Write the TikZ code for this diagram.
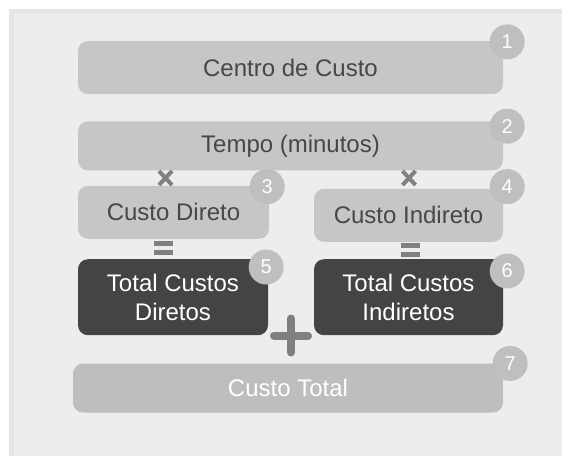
\documentclass[tikz,border=0pt]{standalone}
\usepackage{fontspec}
\setmainfont{Liberation Sans}
\usetikzlibrary{positioning}

\definecolor{panelborder}{HTML}{E6E6E6}
\definecolor{panelfill}{HTML}{EDEDED}
\definecolor{boxlight}{HTML}{C6C6C6}
\definecolor{boxtotal}{HTML}{BEBEBE}
\definecolor{boxdark}{HTML}{444444}
\definecolor{badgegray}{HTML}{BFBFBF}
\definecolor{opgray}{HTML}{808080}
\definecolor{textdark}{HTML}{474747}

\tikzset{
  costbox/.style={rounded corners=10pt, inner sep=0pt, align=center,
    font=\fontsize{24}{29}\selectfont},
  lightbox/.style={costbox, fill=boxlight, text=textdark},
  darkbox/.style={costbox, fill=boxdark, text=white},
  totalbox/.style={costbox, fill=boxtotal, text=white},
  badge/.style={circle, fill=badgegray, text=white, minimum size=35pt,
    inner sep=0pt, font=\fontsize{20}{20}\selectfont},
  opline/.style={draw=opgray, line width=4pt},
  timesop/.pic={\draw[opline] (-6.5,-7) -- (6.5,7) (-6.5,7) -- (6.5,-7);},
  equalsop/.pic={\draw[opline, line width=4.8pt] (-9.5,-4.7) -- (9.5,-4.7) (-9.5,4.7) -- (9.5,4.7);},
  plusop/.pic={\draw[opline, line width=8pt, line cap=round] (-17,0) -- (17,0) (0,-17) -- (0,17);}
}

\begin{document}
\begin{tikzpicture}[x=1pt, y=-1pt]
  \useasboundingbox (0,0) rectangle (562,456);
  % panel
  \fill[panelborder] (9,9) rectangle (562,456);
  \fill[panelfill] (14,14) rectangle (562,456);

  \node[lightbox, minimum width=425pt, minimum height=53pt] (centro) at (290.5,67.5) {Centro de Custo};
  \node[lightbox, minimum width=425pt, minimum height=49pt, below=27pt of centro] (tempo) {Tempo (minutos)};
  \node[lightbox, minimum width=191pt, minimum height=53pt, below=15pt of tempo.south west, anchor=north west] (direto) {Custo Direto};
  \node[lightbox, minimum width=189pt, minimum height=53pt, below=18pt of tempo.south east, anchor=north east] (indireto) {Custo Indireto};
  \node[darkbox, minimum width=190pt, minimum height=76pt, below=20pt of direto.south west, anchor=north west] (totdireto) {Total Custos\\Diretos};
  \node[darkbox, minimum width=189pt, minimum height=76pt, below=17pt of indireto.south east, anchor=north east] (totindireto) {Total Custos\\Indiretos};
  \node[totalbox, minimum width=430pt, minimum height=49pt, below=28pt of totindireto.south east, anchor=north east] (total) {Custo Total};

  % operators
  \pic at (165.5,178) {timesop};
  \pic at (409,178) {timesop};
  \pic at (163.5,248) {equalsop};
  \pic at (410.5,250) {equalsop};
  \pic at (291,335.5) {plusop};

  % numbers
  \node[badge] (b1) at ([xshift=4pt, yshift=-1pt]centro.north east) {1};
  \node[badge] (b2) at ([xshift=4pt, yshift=-5pt]tempo.north east) {2};
  \node[badge] (b3) at ([xshift=-2pt, yshift=-1pt]direto.north east) {3};
  \node[badge] (b4) at ([xshift=4pt, yshift=2pt]indireto.north east) {4};
  \node[badge] (b5) at ([xshift=-2pt, yshift=-8pt]totdireto.north east) {5};
  \node[badge] (b6) at ([xshift=4pt, yshift=-12pt]totindireto.north east) {6};
  \node[badge] (b7) at ([xshift=7pt, yshift=0pt]total.north east) {7};
\end{tikzpicture}
\end{document}
